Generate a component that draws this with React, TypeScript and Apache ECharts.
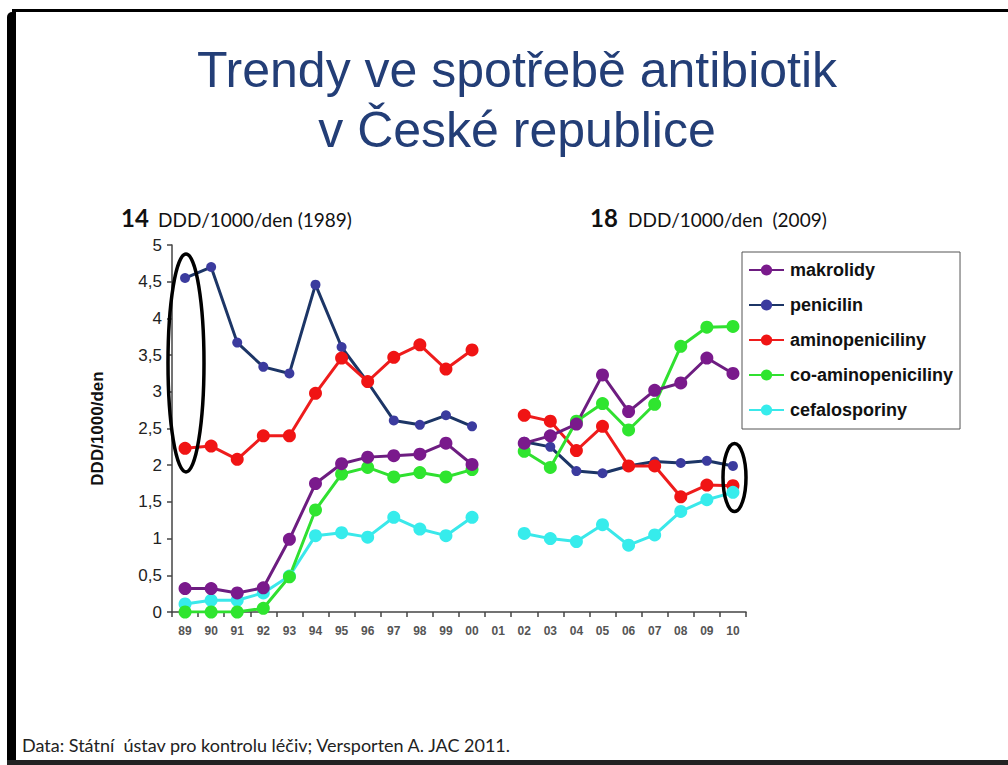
import React, { useEffect, useRef } from "react";
import * as echarts from "echarts";

const years = ["89","90","91","92","93","94","95","96","97","98","99","00","01","02","03","04","05","06","07","08","09","10"];
const yTicks = [0, 0.5, 1, 1.5, 2, 2.5, 3, 3.5, 4, 4.5, 5];

const makrolidy = [0.32,0.32,0.26,0.33,0.99,1.75,2.02,2.11,2.13,2.15,2.30,2.01,null,2.30,2.40,2.56,3.23,2.73,3.02,3.12,3.46,3.25];
const penicilin = [4.55,4.70,3.67,3.34,3.25,4.46,3.61,3.13,2.61,2.55,2.68,2.53,null,2.32,2.25,1.92,1.89,1.99,2.05,2.03,2.06,1.99];
const aminopeniciliny = [2.23,2.26,2.08,2.40,2.40,2.98,3.46,3.14,3.47,3.64,3.31,3.57,null,2.68,2.60,2.20,2.53,1.99,1.99,1.57,1.73,1.72];
const coAminopeniciliny = [0.00,0.00,0.00,0.05,0.48,1.39,1.88,1.97,1.84,1.90,1.84,1.94,null,2.19,1.97,2.60,2.84,2.48,2.83,3.62,3.88,3.89];
const cefalosporiny = [0.11,0.16,0.16,0.26,0.49,1.04,1.08,1.02,1.29,1.13,1.04,1.29,null,1.07,1.00,0.96,1.19,0.91,1.05,1.37,1.53,1.63];

const seriesNames = ["makrolidy", "penicilin", "aminopeniciliny", "co-aminopeniciliny", "cefalosporiny"];

export default function App() {
  const ref = useRef<HTMLDivElement>(null);
  useEffect(() => {
    if (!ref.current) return;
    const chart = echarts.init(ref.current, null, { renderer: "svg" });
    const mk = (name: string, data: (number | null)[], line: string, marker: string, size: number, lw: number) => ({
      name,
      type: "line",
      data,
      connectNulls: false,
      symbol: "circle",
      symbolSize: size,
      lineStyle: { color: line, width: lw },
      itemStyle: { color: marker, borderWidth: 0 },
      color: marker,
    });
    chart.setOption({
      animation: false,
      backgroundColor: "#ffffff",
      grid: { left: 172, right: 262, top: 245, bottom: 153, containLabel: false },
      legend: {
        orient: "vertical",
        left: 742,
        top: 252,
        padding: [9, 7, 10, 6],
        itemWidth: 35,
        itemHeight: 14,
        itemGap: 17,
        borderColor: "#555",
        borderWidth: 1,
        backgroundColor: "#fff",
        data: seriesNames,
        textStyle: { fontFamily: "Liberation Sans", fontWeight: "bold", fontSize: 18, color: "#111", padding: [0, 0, 0, 1] },
      },
      xAxis: {
        type: "category",
        data: years,
        boundaryGap: true,
        axisLine: { show: true, lineStyle: { color: "#444", width: 1.5 } },
        axisTick: { show: true, length: 5, lineStyle: { color: "#444", width: 1.5 } },
        axisLabel: { fontFamily: "Liberation Sans", fontWeight: "bold", fontSize: 12, color: "#555", margin: 13 },
      },
      yAxis: {
        type: "value",
        min: 0,
        max: 5,
        interval: 0.5,
        name: "DDD/1000/den",
        nameLocation: "middle",
        nameGap: 66,
        nameTextStyle: { fontFamily: "Liberation Sans", fontWeight: "bold", fontSize: 17, color: "#111" },
        axisLine: { show: true, lineStyle: { color: "#444", width: 1.5 } },
        axisTick: { show: true, length: 5, lineStyle: { color: "#444", width: 1.5 } },
        splitLine: { show: false },
        axisLabel: {
          fontFamily: "Liberation Sans",
          fontSize: 17,
          color: "#222",
          margin: 10,
          formatter: (v: number) => (yTicks.includes(v) ? String(v).replace(".", ",") : ""),
        },
      },
      series: [
        mk("penicilin", penicilin, "#1c3566", "#3b3b9e", 10, 3),
        mk("aminopeniciliny", aminopeniciliny, "#ee1c1c", "#f01414", 13, 3),
        mk("cefalosporiny", cefalosporiny, "#3ae8ea", "#36ecec", 13, 3),
        mk("co-aminopeniciliny", coAminopeniciliny, "#30e030", "#2fe52f", 13, 3),
        mk("makrolidy", makrolidy, "#6d1d80", "#7a1a8c", 13, 3),
      ],
      graphic: [
        { type: "rect", shape: { x: 7, y: 12, width: 9, height: 753, r: [5, 0, 0, 0] }, style: { fill: "#000" }, silent: true },
        { type: "rect", shape: { x: 12, y: 9, width: 996, height: 3 }, style: { fill: "#000" }, silent: true },
        { type: "rect", shape: { x: 7, y: 760, width: 1001, height: 5 }, style: { fill: "#222" }, silent: true },
        {
          type: "text",
          x: 517,
          y: 70,
          style: { text: "Trendy ve spotřebě antibiotik", fill: "#233e77", font: "50px 'Liberation Sans'", textAlign: "center", textVerticalAlign: "middle" },
        },
        {
          type: "text",
          x: 517,
          y: 130,
          style: { text: "v České republice", fill: "#233e77", font: "50px 'Liberation Sans'", textAlign: "center", textVerticalAlign: "middle" },
        },
        {
          type: "text",
          x: 121,
          y: 217,
          style: { text: "14", fill: "#111", font: "bold 24px Lato", textAlign: "left", textVerticalAlign: "middle" },
        },
        {
          type: "text",
          x: 158,
          y: 219,
          style: { text: "DDD/1000/den (1989)", fill: "#111", font: "19px Lato", textAlign: "left", textVerticalAlign: "middle" },
        },
        {
          type: "text",
          x: 590,
          y: 217,
          style: { text: "18", fill: "#111", font: "bold 24px Lato", textAlign: "left", textVerticalAlign: "middle" },
        },
        {
          type: "text",
          x: 628,
          y: 219,
          style: { text: "DDD/1000/den  (2009)", fill: "#111", font: "19px Lato", textAlign: "left", textVerticalAlign: "middle" },
        },
        {
          type: "text",
          x: 22,
          y: 745,
          style: { text: "Data: Státní  ústav pro kontrolu léčiv; Versporten A. JAC 2011.", fill: "#222", font: "18px Lato", textAlign: "left", textVerticalAlign: "middle" },
        },
        {
          type: "ellipse",
          shape: { cx: 186, cy: 363, rx: 18, ry: 109 },
          style: { fill: "none", stroke: "#000", lineWidth: 3.5 },
          z: 100,
        },
        {
          type: "ellipse",
          shape: { cx: 734.5, cy: 477.5, rx: 11.5, ry: 34 },
          style: { fill: "none", stroke: "#000", lineWidth: 3.5 },
          z: 100,
        },
      ],
    });
    return () => chart.dispose();
  }, []);
  return (
    <div
      ref={ref}
      style={{ position: "absolute", left: 0, top: 0, width: 1008, height: 765, background: "#fff" }}
    />
  );
}
